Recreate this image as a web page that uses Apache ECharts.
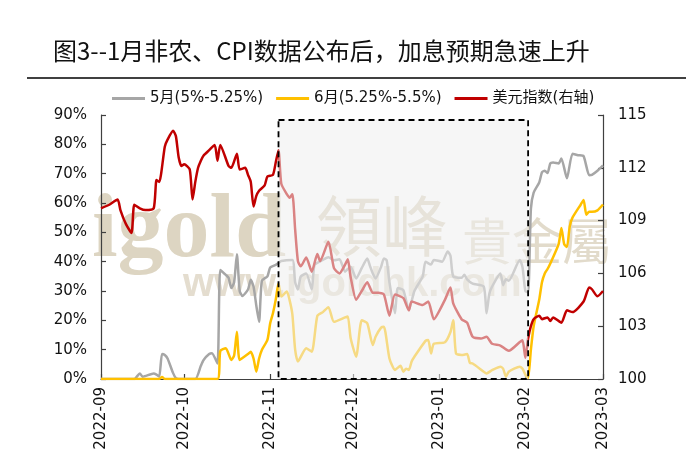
<!DOCTYPE html>
<html>
<head>
<meta charset="utf-8">
<script src="https://cdn.jsdelivr.net/npm/echarts@6/dist/echarts.min.js"></script>
<style>html,body{margin:0;padding:0;background:#fff}#c{width:700px;height:467px}</style>
</head>
<body>
<div id="c"></div>
<script>
const titleText = '图3--1月非农、CPI数据公布后，加息预期急速上升';
const seriesNames = ['5月(5%-5.25%)', '6月(5.25%-5.5%)', '美元指数(右轴)'];
const leftTicks = { min: 0, max: 90, interval: 10 };
const rightTicks = { min: 100, max: 115, interval: 3 };
const boxRange = { start: '2022-11-04', end: '2023-02-02', top: 88.3 };

const dxyDates = ['2022-09-01','2022-09-04','2022-09-07','2022-09-08','2022-09-10','2022-09-12','2022-09-13','2022-09-15','2022-09-17','2022-09-20','2022-09-21','2022-09-22','2022-09-24','2022-09-25','2022-09-27','2022-09-28','2022-09-29','2022-09-30','2022-10-01','2022-10-03','2022-10-04','2022-10-05','2022-10-06','2022-10-07','2022-10-08','2022-10-10','2022-10-12','2022-10-13','2022-10-14','2022-10-17','2022-10-18','2022-10-20','2022-10-21','2022-10-23','2022-10-24','2022-10-25','2022-10-26','2022-10-27','2022-10-28','2022-10-30','2022-10-31','2022-11-02','2022-11-03','2022-11-04','2022-11-05','2022-11-07','2022-11-08','2022-11-09','2022-11-10','2022-11-11','2022-11-12','2022-11-14','2022-11-16','2022-11-18','2022-11-19','2022-11-22','2022-11-24','2022-11-26','2022-11-28','2022-11-29','2022-11-30','2022-12-02','2022-12-04','2022-12-06','2022-12-08','2022-12-10','2022-12-12','2022-12-14','2022-12-16','2022-12-19','2022-12-21','2022-12-22','2022-12-26','2022-12-28','2022-12-30','2023-01-03','2023-01-05','2023-01-06','2023-01-09','2023-01-11','2023-01-13','2023-01-16','2023-01-18','2023-01-20','2023-01-23','2023-01-26','2023-01-30','2023-01-31','2023-02-01','2023-02-02','2023-02-03','2023-02-04','2023-02-06','2023-02-07','2023-02-09','2023-02-10','2023-02-11','2023-02-14','2023-02-16','2023-02-18','2023-02-22','2023-02-24','2023-02-25','2023-02-27','2023-03-01'];
const dxyValues = [109.7,109.9,110.2,109.6,108.8,108.3,109.9,109.7,109.6,109.7,111.3,111.2,113.2,113.6,114.1,113.8,112.6,112.1,112.2,111.9,110.2,111.2,112.0,112.4,112.7,113.0,113.3,112.4,113.3,112.1,112.0,112.8,111.9,112.0,111.6,111.2,109.8,110.4,110.7,111.0,111.5,111.6,112.3,113.0,111.1,110.5,110.3,110.5,108.5,106.7,106.4,106.9,106.1,107.1,106.7,107.8,106.3,106.0,106.5,106.8,105.8,104.5,105.0,105.5,104.9,104.9,104.8,103.6,104.8,104.6,103.9,104.4,104.2,104.4,103.4,104.5,105.2,104.3,103.4,103.2,102.4,102.3,102.4,102.0,101.9,101.6,102.1,102.2,101.2,102.3,103.0,103.4,103.6,103.4,103.5,103.3,103.5,103.2,103.9,103.8,104.4,105.2,105.1,104.7,105.0];

const mayDates = ['2022-09-01','2022-09-13','2022-09-15','2022-09-16','2022-09-20','2022-09-21','2022-09-22','2022-09-23','2022-09-24','2022-09-25','2022-09-27','2022-09-28','2022-09-29','2022-10-05','2022-10-07','2022-10-08','2022-10-10','2022-10-11','2022-10-13','2022-10-14','2022-10-16','2022-10-17','2022-10-18','2022-10-19','2022-10-20','2022-10-21','2022-10-22','2022-10-24','2022-10-25','2022-10-26','2022-10-27','2022-10-28','2022-10-29','2022-10-31','2022-11-01','2022-11-03','2022-11-04','2022-11-05','2022-11-09','2022-11-10','2022-11-11','2022-11-12','2022-11-14','2022-11-16','2022-11-17','2022-11-20','2022-11-22','2022-11-24','2022-11-26','2022-11-28','2022-11-29','2022-11-30','2022-12-02','2022-12-04','2022-12-06','2022-12-07','2022-12-08','2022-12-09','2022-12-11','2022-12-12','2022-12-13','2022-12-14','2022-12-16','2022-12-17','2022-12-19','2022-12-21','2022-12-23','2022-12-26','2022-12-27','2022-12-29','2022-12-30','2023-01-02','2023-01-04','2023-01-05','2023-01-06','2023-01-09','2023-01-10','2023-01-11','2023-01-13','2023-01-17','2023-01-18','2023-01-19','2023-01-20','2023-01-23','2023-01-24','2023-01-25','2023-01-26','2023-01-30','2023-01-31','2023-02-01','2023-02-02','2023-02-03','2023-02-04','2023-02-06','2023-02-07','2023-02-08','2023-02-09','2023-02-10','2023-02-11','2023-02-13','2023-02-14','2023-02-16','2023-02-18','2023-02-20','2023-02-22','2023-02-24','2023-02-25','2023-02-27','2023-03-01'];
const mayValues = [0,0,1.9,0.8,1.9,1.5,0.8,8.5,8.2,7.0,2.0,0.3,0,0,4.5,6.5,8.5,8.8,5.3,37.2,35.5,34.5,31.0,33.0,42.5,30.0,28.3,30.5,33.8,31.5,25.0,19.5,33.5,35.0,38.0,38.9,39.5,40.2,40.6,33.0,30.5,34.9,36.0,30.5,38.9,40.6,41.5,40.5,40.8,36.6,37.5,38.3,34.3,37.8,41.1,38.5,36.0,34.3,38.3,41.1,40.5,33.0,22.4,31.0,30.3,23.5,30.0,35.0,40.0,39.0,40.6,40.0,43.5,42.0,35.0,34.5,35.5,34.0,32.5,31.5,22.4,29.0,31.5,36.0,32.0,34.0,33.5,40.6,38.0,30.0,29.5,58.0,63.5,67.0,70.5,71.0,70.2,73.5,73.8,73.5,75.2,68.4,76.8,76.3,76.0,69.5,69.6,71.0,72.8];

const junDates = ['2022-09-01','2022-09-22','2022-09-23','2022-09-24','2022-10-13','2022-10-14','2022-10-16','2022-10-18','2022-10-19','2022-10-20','2022-10-21','2022-10-24','2022-10-25','2022-10-26','2022-10-27','2022-10-28','2022-10-29','2022-10-31','2022-11-01','2022-11-02','2022-11-03','2022-11-04','2022-11-05','2022-11-07','2022-11-08','2022-11-09','2022-11-10','2022-11-11','2022-11-14','2022-11-16','2022-11-18','2022-11-20','2022-11-22','2022-11-24','2022-11-28','2022-11-29','2022-11-30','2022-12-02','2022-12-04','2022-12-06','2022-12-08','2022-12-09','2022-12-11','2022-12-12','2022-12-14','2022-12-16','2022-12-18','2022-12-19','2022-12-20','2022-12-21','2022-12-22','2022-12-23','2022-12-27','2022-12-28','2022-12-29','2022-12-30','2023-01-03','2023-01-05','2023-01-06','2023-01-07','2023-01-09','2023-01-11','2023-01-12','2023-01-13','2023-01-17','2023-01-18','2023-01-20','2023-01-23','2023-01-24','2023-01-25','2023-01-26','2023-01-30','2023-01-31','2023-02-01','2023-02-02','2023-02-03','2023-02-04','2023-02-06','2023-02-07','2023-02-08','2023-02-09','2023-02-10','2023-02-13','2023-02-14','2023-02-15','2023-02-16','2023-02-17','2023-02-18','2023-02-21','2023-02-22','2023-02-23','2023-02-24','2023-02-25','2023-02-27','2023-03-01'];
const junValues = [0,0,0.7,0,0,9.5,10.5,6.5,8.0,16.1,6.5,8.5,9.3,7.0,2.5,7.0,9.9,13.3,19.0,22.4,27.0,32.6,28.1,29.8,26.9,22.0,10.0,6.0,10.5,9.3,21.5,22.8,24.5,19.5,21.0,21.3,14.0,7.6,20.0,19.0,11.6,14.4,17.5,17.8,7.0,3.1,4.5,2.5,3.5,3.1,6.0,7.6,13.0,13.3,8.7,12.0,12.5,16.0,20.0,8.7,8.2,8.5,5.5,5.3,2.5,1.9,3.0,4.2,3.5,0.8,2.5,4.2,3.5,1.5,0.3,10.0,18.0,27.0,33.0,36.0,37.5,39.4,46.0,51.5,46.0,45.0,52.0,55.0,59.5,61.0,56.0,57.0,57.0,57.5,59.5];

const FONT = '"DejaVu Sans", "Noto Sans CJK SC", sans-serif';
const zip = (d, v) => d.map((x, i) => [x, v[i]]);

const chart = echarts.init(document.getElementById('c'), null, { renderer: 'canvas' });
const axisLine = { show: true, lineStyle: { color: '#404040', width: 1.2 } };
const axisTick = { show: true, inside: true, length: 5, lineStyle: { color: '#404040', width: 1.2 } };

const baseGraphic = [
  { id: 'uline', type: 'line', z: 100, shape: { x1: 27, y1: 78, x2: 686, y2: 78 }, style: { stroke: '#404040', lineWidth: 2 } },
  { id: 'wm1', type: 'text', z: 0, left: 92, top: 186, style: { text: 'igold', font: 'bold 92px "Liberation Serif"', fill: '#ddd5c2' } },
  { id: 'wm2', type: 'text', z: 0, left: 316, top: 193, style: { text: '領峰', font: '66px "Noto Sans CJK TC"', fill: '#ddd5c2' } },
  { id: 'wm3', type: 'text', z: 0, left: 462, top: 216, style: { text: '貴金屬', font: '50px "Noto Sans CJK TC"', fill: '#e2dbcb' } },
  { id: 'wm4', type: 'text', z: 0, left: 183, top: 265, style: { text: 'www.igoldhk.com', font: 'bold 40px "Liberation Sans"', fill: '#e4ddcf' } }
];

chart.setOption({
  animation: false,
  backgroundColor: '#fff',
  title: {
    text: titleText, left: 53, top: 39, padding: 0,
    textStyle: { fontSize: 24, fontWeight: 'normal', color: '#111', fontFamily: '"Noto Sans CJK SC", sans-serif' }
  },
  graphic: baseGraphic,
  legend: {
    data: seriesNames, left: 107, top: 86, icon: 'rect', itemWidth: 33, itemHeight: 3, itemGap: 13,
    textStyle: { fontSize: 15, color: '#111', fontFamily: FONT }
  },
  grid: { left: 101, right: 97, top: 115, bottom: 88, containLabel: false },
  xAxis: {
    type: 'time', min: '2022-09-01', max: '2023-03-01',
    minInterval: 28 * 864e5, maxInterval: 31 * 864e5,
    axisLine, axisTick, splitLine: { show: false },
    axisLabel: {
      rotate: 90, margin: 8, fontSize: 15, color: '#111', fontFamily: FONT, hideOverlap: false,
      formatter: (v) => { const d = new Date(v); return d.getFullYear() + '-' + String(d.getMonth() + 1).padStart(2, '0'); }
    }
  },
  yAxis: [
    { type: 'value', min: leftTicks.min, max: leftTicks.max, interval: leftTicks.interval, axisLine, axisTick, splitLine: { show: false },
      axisLabel: { formatter: '{value}%', fontSize: 15, color: '#111', fontFamily: FONT, margin: 14 } },
    { type: 'value', min: rightTicks.min, max: rightTicks.max, interval: rightTicks.interval, axisLine, axisTick, splitLine: { show: false },
      axisLabel: { fontSize: 15, color: '#111', fontFamily: FONT, margin: 15 } }
  ],
  series: [
    { name: seriesNames[0], type: 'line', yAxisIndex: 0, data: zip(mayDates, mayValues), showSymbol: false, symbol: 'none', smooth: 0.2, z: 3,
      color: '#A6A6A6', lineStyle: { color: '#A6A6A6', width: 2.5 } },
    { name: seriesNames[1], type: 'line', yAxisIndex: 0, data: zip(junDates, junValues), showSymbol: false, symbol: 'none', smooth: 0.2, z: 4,
      color: '#FFC000', lineStyle: { color: '#FFC000', width: 2.5 } },
    { name: seriesNames[2], type: 'line', yAxisIndex: 1, data: zip(dxyDates, dxyValues), showSymbol: false, symbol: 'none', smooth: 0.2, z: 5,
      color: '#C00000', lineStyle: { color: '#C00000', width: 2.5 } }
  ]
});

// Highlight box placed through the chart's own scales
const finder = { xAxisIndex: 0, yAxisIndex: 0 };
const pTL = chart.convertToPixel(finder, [echarts.number.parseDate(boxRange.start).getTime(), boxRange.top]);
const pBR = chart.convertToPixel(finder, [echarts.number.parseDate(boxRange.end).getTime(), 0]);
chart.setOption({
  graphic: baseGraphic.concat([
    { id: 'box', type: 'rect', z: 50,
      shape: { x: pTL[0], y: pTL[1], width: pBR[0] - pTL[0], height: pBR[1] - pTL[1] },
      style: { fill: 'rgba(238,238,238,0.55)', stroke: '#000', lineWidth: 1.8, lineDash: [6, 4] } }
  ])
});
</script>
</body>
</html>
